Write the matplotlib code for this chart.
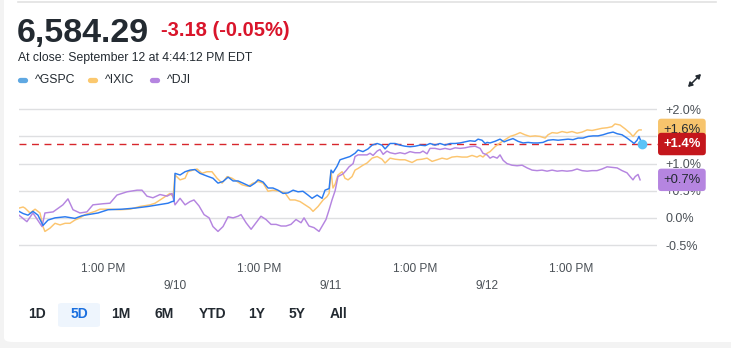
import numpy as np
import matplotlib
matplotlib.use("Agg")
import matplotlib.pyplot as plt
from matplotlib.lines import Line2D
from matplotlib.patches import FancyBboxPatch

plt.rcParams['font.family'] = ['Liberation Sans', 'DejaVu Sans']

# hours of trading since the 9/9 open (6.5 h per session)
gspc_t = [0.0, 0.17, 0.375, 0.58, 0.79, 1.0, 1.21, 1.5, 1.92, 2.33, 2.63, 2.88, 3.29, 3.71, 4.29,
          4.83, 5.375, 5.79, 6.21, 6.375, 6.46,
          6.5, 6.71, 6.92, 7.125, 7.33, 7.54, 7.83, 8.08, 8.29, 8.5, 8.71, 8.92, 9.125, 9.33, 9.625,
          9.83, 9.96, 10.17, 10.375, 10.58, 10.79, 11.0, 11.21, 11.42, 11.625, 11.83, 12.04, 12.21,
          12.42, 12.625, 12.75, 12.92,
          13.0, 13.08, 13.25, 13.375, 13.58, 13.79, 14.0, 14.125, 14.33, 14.54, 14.71, 14.92, 15.125,
          15.25, 15.46, 15.67, 15.875, 16.08, 16.29, 16.5, 16.71, 16.92, 17.125, 17.33, 17.54, 17.75,
          17.96, 18.17, 18.375, 18.58, 18.79, 19.0, 19.125, 19.29, 19.42,
          19.5, 19.625, 19.83, 20.04, 20.21, 20.375, 20.58, 20.79, 21.0, 21.21, 21.42, 21.625, 21.83,
          22.04, 22.25, 22.46, 22.67, 22.875, 23.08, 23.29, 23.5, 23.71, 23.92, 24.125, 24.33, 24.54,
          24.75, 24.92, 25.125, 25.33, 25.54, 25.625, 25.75, 25.83, 25.92, 25.96]
gspc = [0.12, 0.08, 0.05, 0.12, 0.05, -0.14, -0.04, 0.00, 0.02, -0.01, 0.04, 0.06, 0.09, 0.15, 0.16,
        0.18, 0.21, 0.24, 0.27, 0.30, 0.31,
        0.82, 0.79, 0.85, 0.88, 0.89, 0.82, 0.77, 0.73, 0.64, 0.67, 0.75, 0.68, 0.68, 0.64, 0.58,
        0.64, 0.70, 0.66, 0.55, 0.55, 0.51, 0.45, 0.46, 0.51, 0.48, 0.49, 0.42, 0.36,
        0.42, 0.36, 0.51, 0.54,
        0.88, 0.83, 0.95, 1.07, 1.10, 1.13, 1.19, 1.25, 1.22, 1.27, 1.34, 1.37, 1.34,
        1.27, 1.37, 1.37, 1.34, 1.32, 1.31, 1.32, 1.34, 1.33, 1.37, 1.34, 1.37, 1.34,
        1.37, 1.37, 1.38, 1.40, 1.42, 1.41, 1.45, 1.43, 1.37,
        1.39, 1.38, 1.41, 1.45, 1.40, 1.43, 1.46, 1.41, 1.38, 1.39, 1.38, 1.38, 1.39,
        1.43, 1.44, 1.43, 1.44, 1.45, 1.44, 1.47, 1.47, 1.50, 1.51, 1.51, 1.53, 1.56,
        1.58, 1.55, 1.53, 1.47, 1.40, 1.37, 1.43, 1.50, 1.40, 1.36]

ixic_t = [0.0, 0.17, 0.25, 0.46, 0.67, 0.875, 1.0, 1.08, 1.29, 1.5, 1.71, 1.92, 2.125, 2.33, 2.54,
          2.75, 2.96, 3.17, 3.375, 3.79, 4.21, 4.625, 5.04, 5.46, 5.67, 5.875, 6.08, 6.29, 6.42,
          6.5, 6.71, 6.92, 7.04, 7.25, 7.42, 7.625, 7.83, 8.04, 8.25, 8.46, 8.67, 8.875, 9.08, 9.29,
          9.54, 9.75, 9.96, 10.17, 10.375, 10.58, 10.875, 11.08, 11.29, 11.5, 11.71, 11.92, 12.125,
          12.25, 12.46, 12.67, 12.83, 12.92,
          13.0, 13.08, 13.17, 13.29, 13.46, 13.58, 13.71, 13.875, 14.0, 14.125, 14.33, 14.5, 14.71,
          14.92, 15.125, 15.25, 15.46, 15.67, 15.875, 16.08, 16.375, 16.58, 16.79, 17.0, 17.21,
          17.42, 17.625, 17.83, 18.04, 18.25, 18.46, 18.67, 18.875, 19.08, 19.21, 19.33, 19.42,
          19.5, 19.625, 19.83, 20.04, 20.25, 20.46, 20.67, 20.875, 21.08, 21.29, 21.5, 21.71, 21.92,
          22.04, 22.21, 22.42, 22.625, 22.83, 23.04, 23.25, 23.46, 23.67, 23.875, 24.08, 24.29,
          24.5, 24.71, 24.83, 25.04, 25.25, 25.46, 25.58, 25.75, 25.83, 25.92]
ixic = [0.18, 0.20, 0.18, 0.09, 0.16, 0.09, -0.16, -0.25, -0.19, -0.10, -0.13, -0.10, -0.10, -0.04,
        0.00, 0.06, 0.09, 0.12, 0.16, 0.16, 0.15, 0.16, 0.21, 0.24, 0.27, 0.33, 0.39, 0.45, 0.39,
        0.79, 0.70, 0.73, 0.85, 0.88, 0.90, 0.82, 0.85, 0.85, 0.73, 0.64, 0.76, 0.73, 0.67, 0.61,
        0.58, 0.64, 0.67, 0.64, 0.49, 0.51, 0.49, 0.46, 0.33, 0.33, 0.30, 0.24, 0.18,
        0.12, 0.21, 0.33, 0.39, 0.45,
        0.85, 0.55, 0.62, 0.79, 0.85, 0.73, 0.70, 0.76, 0.88, 0.91, 0.97, 1.01, 1.10,
        1.13, 1.08, 1.01, 1.10, 1.08, 1.07, 1.07, 1.02, 1.07, 1.08, 1.10, 1.04,
        1.07, 1.10, 1.08, 1.12, 1.13, 1.12, 1.12, 1.15, 1.12, 1.15, 1.12, 1.16,
        1.19, 1.22, 1.31, 1.38, 1.44, 1.50, 1.53, 1.57, 1.53, 1.50, 1.51, 1.50, 1.47,
        1.53, 1.57, 1.56, 1.59, 1.57, 1.59, 1.56, 1.58, 1.62, 1.61, 1.63, 1.65,
        1.66, 1.68, 1.73, 1.71, 1.64, 1.56, 1.50, 1.59, 1.62, 1.62]

dji_t = [0.0, 0.33, 0.58, 0.96, 1.08, 1.42, 1.83, 2.04, 2.25, 2.54, 2.83, 3.08, 3.5, 3.79, 4.08,
         4.5, 4.92, 5.125, 5.33, 5.58, 5.875, 6.17, 6.375,
         6.5, 6.71, 6.92, 7.125, 7.29, 7.5, 7.71, 7.92, 8.08, 8.29, 8.5, 8.71, 8.92, 9.125, 9.25,
         9.46, 9.67, 9.875, 10.08, 10.29, 10.5, 10.71, 10.92, 11.125, 11.33, 11.54, 11.75, 11.875,
         12.08, 12.29, 12.5, 12.67, 12.79, 12.92,
         13.04, 13.17, 13.29, 13.5, 13.625, 13.75, 13.92, 14.0, 14.125, 14.33, 14.5, 14.625, 14.75,
         14.92, 15.04, 15.17, 15.33, 15.46, 15.67, 15.875, 16.08, 16.29, 16.5, 16.71, 16.83, 17.0,
         17.125, 17.33, 17.54, 17.75, 17.96, 18.17, 18.375, 18.58, 18.79, 19.0, 19.21, 19.33,
         19.5, 19.625, 19.75, 19.92, 20.04, 20.17, 20.33, 20.54, 20.75, 20.96, 21.17, 21.375,
         21.58, 21.79, 22.0, 22.21, 22.42, 22.625, 22.83, 23.04, 23.25, 23.46, 23.67, 23.875,
         24.08, 24.29, 24.5, 24.71, 24.92, 25.125, 25.33, 25.46, 25.58, 25.67, 25.79, 25.875]
dji = [0.05, -0.07, 0.09, -0.16, 0.09, 0.11, 0.24, 0.35, 0.15, 0.09, 0.11, 0.24, 0.26, 0.27, 0.42,
       0.48, 0.51, 0.51, 0.40, 0.37, 0.43, 0.40, 0.45,
       0.24, 0.36, 0.24, 0.30, 0.33, 0.22, 0.06, 0.00, -0.16, -0.25, -0.16, 0.02, 0.00, 0.03, 0.06,
       -0.09, -0.21, -0.09, 0.03, -0.03, -0.12, -0.12, -0.15, -0.15, -0.12, -0.03, -0.09, 0.00,
       -0.15, -0.18, -0.25, -0.12, -0.03, 0.15,
       0.33, 0.50, 0.76, 0.81, 0.87, 0.94, 1.00, 1.13, 1.16, 1.16, 1.16, 1.19, 1.15,
       1.23, 1.26, 1.17, 1.23, 1.20, 1.18, 1.20, 1.18, 1.22, 1.20, 1.20, 1.23, 1.18,
       1.28, 1.28, 1.26, 1.28, 1.26, 1.29, 1.28, 1.29, 1.31, 1.32, 1.28, 1.19,
       1.16, 1.10, 1.13, 1.10, 1.16, 1.06, 1.00, 0.97, 0.96, 0.97, 0.92, 0.88,
       0.87, 0.88, 0.86, 0.88, 0.86, 0.87, 0.86, 0.87, 0.90, 0.87, 0.86, 0.87,
       0.87, 0.90, 0.94, 0.93, 0.92, 0.87, 0.83, 0.76, 0.70, 0.76, 0.80, 0.70]

series_names = ['^GSPC', '^IXIC', '^DJI']
line_colors = ['#2b7bf0', '#fcc56f', '#b585e0']
legend_colors = ['#5fa8e2', '#fbc86e', '#b585e0']
end_labels = ['+1.4%', '+1.6%', '+0.7%']

one_pm_ticks = [3.5, 10.0, 16.5, 23.0]
one_pm_labels = ['1:00 PM'] * 4
date_ticks = [6.5, 13.0, 19.5]
date_labels = ['9/10', '9/11', '9/12']
y_ticks = [-0.5, 0.0, 0.5, 1.0, 1.5, 2.0]

price = '6,584.29'
change = '-3.18 (-0.05%)'
close_note = 'At close: September 12 at 4:44:12 PM EDT'
ranges = ['1D', '5D', '1M', '6M', 'YTD', '1Y', '5Y', 'All']

W, H = 731, 348
fig = plt.figure(figsize=(W / 100, H / 100), dpi=100, facecolor='#f3f3f3')


def px(x):
    return x / W


def py(y):
    return 1 - y / H


# white card
fig.patches.append(FancyBboxPatch((px(4), py(342)), px(760), py(-20) - py(342),
                                  boxstyle='round,pad=0,rounding_size=0.012',
                                  transform=fig.transFigure, fc='white', ec='none', zorder=-5))
fig.add_artist(Line2D([px(18), px(716)], [py(1.5), py(1.5)], color='#e2e2e2', lw=1.2))

dark = '#232a31'
fig.text(px(17), py(42), price, fontsize=24.5, fontweight='bold', color=dark, va='baseline')
fig.text(px(161), py(36), change, fontsize=14.5, fontweight='bold', color='#d9152b', va='baseline')
fig.text(px(18), py(61), close_note, fontsize=8.8, color=dark, va='baseline')

leg_x = [18, 88, 150]
for lx, name, c in zip(leg_x, series_names, legend_colors):
    fig.add_artist(Line2D([px(lx + 2), px(lx + 7)], [py(80), py(80)], color=c, lw=3.8,
                          solid_capstyle='round'))
    fig.text(px(lx + 17), py(80), name, fontsize=8.8, color=dark, va='center')

# expand icon
fig.add_artist(plt.Annotation('', xy=(px(701), py(74)), xytext=(px(688), py(87)),
                              xycoords='figure fraction', textcoords='figure fraction',
                              arrowprops=dict(arrowstyle='<|-|>,head_length=0.25,head_width=0.15',
                                              color=dark, lw=1.1, shrinkA=0, shrinkB=0)))

# chart
ax_top, ax_bot = 100, 252
ax = fig.add_axes([px(19), py(ax_bot), px(657 - 19), (ax_bot - ax_top) / H])
ax.set_zorder(2)
ax.set_facecolor('none')
px_per_pct = 54.4
ax.set_ylim(-0.5 - (ax_bot - 245) / px_per_pct, 2.0 + (109.3 - ax_top) / px_per_pct)
ax.set_xlim(0, 26.58)

ax.plot(ixic_t, ixic, color=line_colors[1], lw=1.05, zorder=3)
ax.plot(dji_t, dji, color=line_colors[2], lw=1.05, zorder=3)
ax.plot(gspc_t, gspc, color=line_colors[0], lw=1.05, zorder=4)
ax.plot(gspc_t[-1], gspc[-1], 'o', color='#5cc3f7', ms=6, zorder=5)
ax.axhline(gspc[-1], color='#d8262c', lw=1.0, ls=(0, (5, 4)), zorder=2, clip_on=False)

for s in ax.spines.values():
    s.set_visible(False)
ax.yaxis.tick_right()
ax.set_yticks(y_ticks)
ax.set_yticklabels(['0.0%' if v == 0 else f'{v:+.1f}%' for v in y_ticks])
ax.grid(axis='y', color='#dedfe1', lw=1.0)
ax.tick_params(axis='y', length=0, pad=6, labelsize=9, labelcolor='#4b5157')
ax.set_xticks(one_pm_ticks, one_pm_labels)
ax.set_xticks(date_ticks, date_labels, minor=True)
ax.tick_params(axis='x', which='major', length=0, pad=8, labelsize=8.6, labelcolor='#4b5157')
ax.tick_params(axis='x', which='minor', length=0, pad=20, labelsize=8.6, labelcolor='#4b5157')

# end-value tags
last_vals = [gspc[-1], ixic[-1], dji[-1]]
box_colors = ['#c4161c', '#f7c46c', '#b585e0']
text_colors = ['white', dark, dark]
for i in [1, 2, 0]:
    ax.annotate(end_labels[i], xy=(1, last_vals[i]), xycoords=('axes fraction', 'data'),
                xytext=(4.5, 0), textcoords='offset points', ha='left', va='center',
                fontsize=9.4, color=text_colors[i], fontweight='bold' if i == 0 else 'normal',
                bbox=dict(boxstyle='round,pad=0.4,rounding_size=0.25', fc=box_colors[i], ec='none'),
                annotation_clip=False, zorder=10)

# range buttons
btn_x = [37, 79, 121, 164, 213, 257, 297, 339]
fig.patches.append(FancyBboxPatch((px(58), py(327)), px(42), py(303) - py(327),
                                  boxstyle='round,pad=0,rounding_size=0.006',
                                  transform=fig.transFigure, fc='#eef5fd', ec='none', zorder=-4))
for bx, r in zip(btn_x, ranges):
    fig.text(px(bx), py(314), r, fontsize=10, fontweight='bold', ha='center', va='center',
             color='#1a6fdf' if r == '5D' else dark)

fig.savefig('out.png', dpi=100, facecolor=fig.get_facecolor())
